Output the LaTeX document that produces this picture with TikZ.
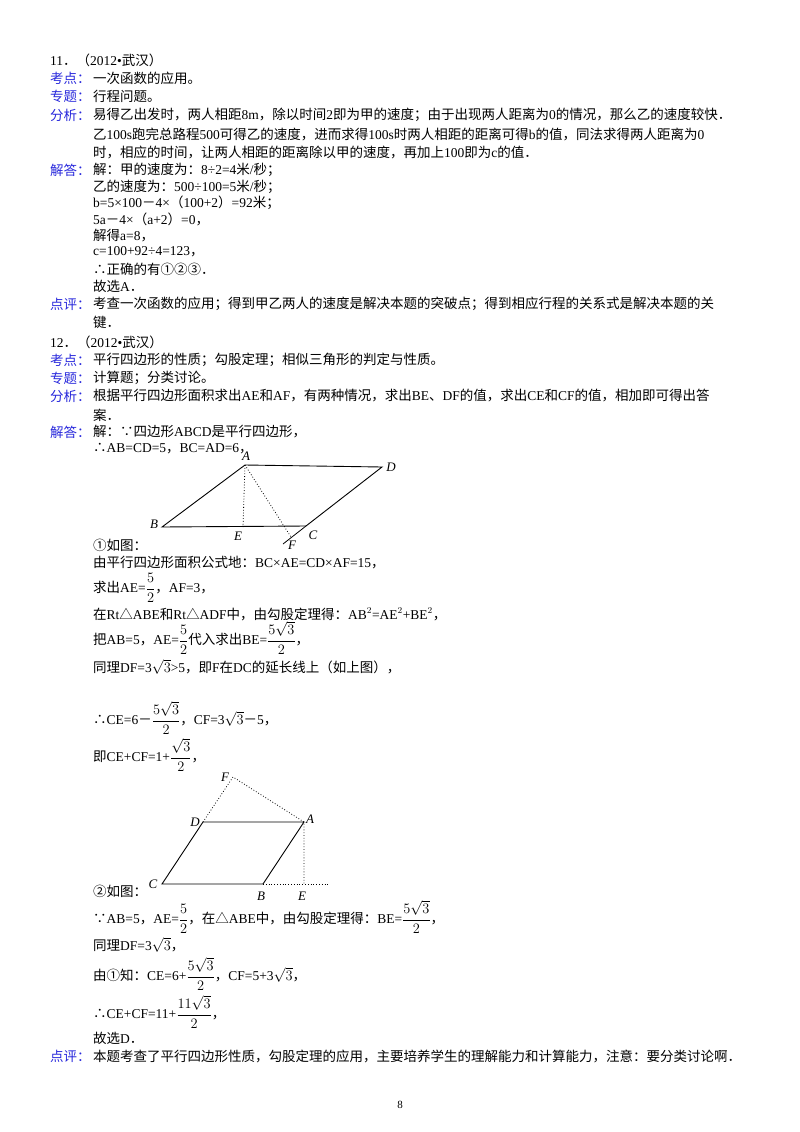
\documentclass[tikz,border=0pt]{standalone}
\usepackage{amsmath}
\usepackage{fontspec}
\setmainfont{Liberation Serif}
\newfontfamily\latinf{Liberation Serif}
\newfontfamily\cjk{Noto Sans CJK SC}
\XeTeXinterchartokenstate=1
\newXeTeXintercharclass\cjkcls
\newcount\cc
\def\setrange#1#2{\cc=#1 \loop \XeTeXcharclass\cc=\cjkcls \ifnum\cc<#2 \advance\cc by 1 \repeat}
\setrange{"3000}{"303F}
\setrange{"4E00}{"9FFF}
\setrange{"FF00}{"FFEF}
\setrange{"2460}{"2473}
\XeTeXcharclass"2234=\cjkcls
\XeTeXcharclass"2235=\cjkcls
\XeTeXcharclass"25B3=\cjkcls
\XeTeXinterchartoks 0 \cjkcls = {\cjk}
\XeTeXinterchartoks 4095 \cjkcls = {\cjk}
\XeTeXinterchartoks \cjkcls 0 = {\latinf}
\begin{document}
\begin{tikzpicture}[x=1pt,y=-1pt,
  tx/.style={anchor=west,inner sep=0pt,font=\fontsize{13.5}{16}\selectfont},
  lb/.style={tx,text=labblue},
  pt/.style={inner sep=1pt,font=\fontsize{13}{15}\itshape},
  fig/.style={line width=0.9pt},
  dl/.style={dotted,line width=0.8pt}]
\definecolor{labblue}{RGB}{40,40,220}
\useasboundingbox (0,0) rectangle (800,1132);
\fill[white] (0,0) rectangle (800,1132);
\node[tx] (t1) at (50,60) {11．（2012•武汉）};
\node[lb] (l1) at (50,78) {考点：};
\node[tx] (c1) at (93,78) {一次函数的应用。};
\node[lb] (l2) at (50,96) {专题：};
\node[tx] (c2) at (93,96) {行程问题。};
\node[lb] (l3) at (50,115) {分析：};
\node[tx] (c3) at (93,115) {易得乙出发时，两人相距8m，除以时间2即为甲的速度；由于出现两人距离为0的情况，那么乙的速度较快．};
\node[tx] (c3b) at (93,134) {乙100s跑完总路程500可得乙的速度，进而求得100s时两人相距的距离可得b的值，同法求得两人距离为0};
\node[tx] (c3c) at (93,152) {时，相应的时间，让两人相距的距离除以甲的速度，再加上100即为c的值．};
\node[lb] (l4) at (50,170) {解答：};
\node[tx] (c4) at (93,170) {解：甲的速度为：8÷2=4米/秒；};
\node[tx] (c4b) at (93,187) {乙的速度为：500÷100=5米/秒；};
\node[tx] (c4c) at (93,203) {b=5×100－4×（100+2）=92米；};
\node[tx] (c4d) at (93,219) {5a－4×（a+2）=0，};
\node[tx] (c4e) at (93,236) {解得a=8，};
\node[tx] (c4f) at (93,252) {c=100+92÷4=123，};
\node[tx] (c4g) at (93,269) {∴正确的有①②③．};
\node[tx] (c4h) at (93,286) {故选A．};
\node[lb] (l5) at (50,304) {点评：};
\node[tx] (c5) at (93,304) {考查一次函数的应用；得到甲乙两人的速度是解决本题的突破点；得到相应行程的关系式是解决本题的关};
\node[tx] (c5b) at (93,322) {键．};
\node[tx] (t2) at (50,342) {12．（2012•武汉）};
\node[lb] (m1) at (50,360) {考点：};
\node[tx] (d1) at (93,360) {平行四边形的性质；勾股定理；相似三角形的判定与性质。};
\node[lb] (m2) at (50,378) {专题：};
\node[tx] (d2) at (93,378) {计算题；分类讨论。};
\node[lb] (m3) at (50,396) {分析：};
\node[tx] (d3) at (93,396) {根据平行四边形面积求出AE和AF，有两种情况，求出BE、DF的值，求出CE和CF的值，相加即可得出答};
\node[tx] (d3b) at (93,415) {案．};
\node[lb] (m4) at (50,432) {解答：};
\node[tx] (d4) at (93,432) {解：∵四边形ABCD是平行四边形，};
\node[tx] (d4b) at (93,449) {∴AB=CD=5，BC=AD=6，};
% figure 1
\coordinate (B1) at (162,527); \coordinate (A1) at (245,465);
\coordinate (D1) at (382,467); \coordinate (C1) at (306,526);
\coordinate (E1) at (243,527); \coordinate (F1) at (291,537);
\coordinate (X1) at (283,544);
\draw[fig] (B1) -- (A1) -- (D1) -- (C1) -- cycle;
\draw[line width=0.8pt] (C1) -- (X1);
\draw[dl] (A1) -- (E1); \draw[dl] (A1) -- (F1);
\node[pt] (nA1) at (246,456) {A}; \node[pt] (nD1) at (391,467) {D};
\node[pt] (nB1) at (154,524) {B}; \node[pt] (nE1) at (238,536) {E};
\node[pt] (nC1) at (313,535) {C}; \node[pt] (nF1) at (292,545) {F};
\node[tx] (e1) at (93,545) {①如图：};
\node[tx] (e2) at (93,563) {由平行四边形面积公式地：BC×AE=CD×AF=15，};
\node[tx] (e3) at (93,588) {求出AE=$\dfrac{5}{2}$，AF=3，};
\node[tx] (e4) at (93,614) {在Rt△ABE和Rt△ADF中，由勾股定理得：AB$^2$=AE$^2$+BE$^2$，};
\node[tx] (e5) at (93,638) {把AB=5，AE=$\dfrac{5}{2}$代入求出BE=$\dfrac{5\sqrt{3}}{2}$，};
\node[tx] (e6) at (93,667) {同理DF=3$\sqrt{3}$>5，即F在DC的延长线上（如上图），};
\node[tx] (e7) at (93,718) {∴CE=6－$\dfrac{5\sqrt{3}}{2}$，CF=3$\sqrt{3}$－5，};
\node[tx] (e8) at (93,755) {即CE+CF=1+$\dfrac{\sqrt{3}}{2}$，};
% figure 2
\coordinate (C2) at (162,884); \coordinate (B2) at (263,884);
\coordinate (A2) at (304,822); \coordinate (D2) at (203,822);
\coordinate (F2) at (233,777); \coordinate (E2) at (304,884);
\coordinate (X2) at (330,884);
\draw[fig] (C2) -- (B2) -- (A2) -- (D2) -- cycle;
\draw[dl] (D2) -- (F2) -- (A2) -- (E2);
\draw[dl] (B2) -- (X2);
\node[pt] (nF2) at (225,777) {F}; \node[pt] (nD2) at (195,822) {D};
\node[pt] (nA2) at (310,819) {A}; \node[pt] (nC2) at (153,884) {C};
\node[pt] (nB2) at (261,896) {B}; \node[pt] (nE2) at (302,896) {E};
\node[tx] (g1) at (93,891) {②如图：};
\node[tx] (g2) at (93,917) {∵AB=5，AE=$\dfrac{5}{2}$，在△ABE中，由勾股定理得：BE=$\dfrac{5\sqrt{3}}{2}$，};
\node[tx] (g3) at (93,945) {同理DF=3$\sqrt{3}$，};
\node[tx] (g4) at (93,974) {由①知：CE=6+$\dfrac{5\sqrt{3}}{2}$，CF=5+3$\sqrt{3}$，};
\node[tx] (g5) at (93,1012) {∴CE+CF=11+$\dfrac{11\sqrt{3}}{2}$，};
\node[tx] (g6) at (93,1038) {故选D．};
\node[lb] (m5) at (50,1056) {点评：};
\node[tx] (g7) at (93,1056) {本题考查了平行四边形性质，勾股定理的应用，主要培养学生的理解能力和计算能力，注意：要分类讨论啊．};
\node[inner sep=0pt,font=\fontsize{11}{13}\selectfont] (pg) at (400,1105) {8};
\end{tikzpicture}
\end{document}
